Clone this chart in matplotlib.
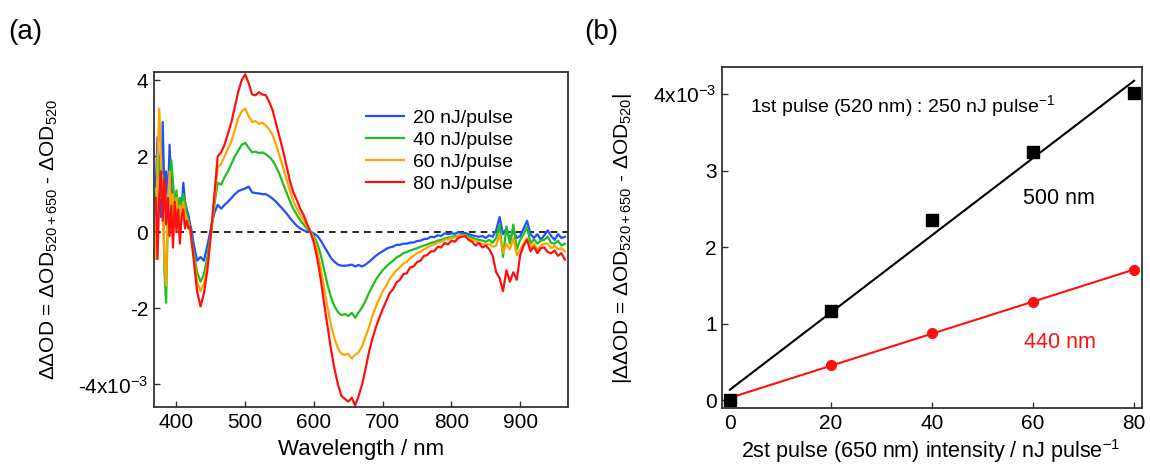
import matplotlib
matplotlib.use('Agg')
import matplotlib.pyplot as plt
import numpy as np

plt.rcParams['font.family'] = 'Liberation Sans'
plt.rcParams['mathtext.fontset'] = 'custom'
plt.rcParams['mathtext.rm'] = 'Liberation Sans'
plt.rcParams['mathtext.it'] = 'Liberation Sans:italic'
plt.rcParams['axes.unicode_minus'] = False

#-------------------------------------------------------------------------------
# Data (a): transient spectra (x 1e-3)
#-------------------------------------------------------------------------------
wavelength = [370 + 2.5 * i for i in range(23)] + list(range(430, 970, 5))

od_20 = [1.2, 2.5, 1.6, 0.4, 2.9, 1.0, 1.6, 0.7, 2.3, 1.2, 0.9, 0.5, 0.8, 0.7, 0.9, 0.6, 1.3, 0.8, 0.6, 0.45, 0.2, 0.0, -0.3,
         -0.75, -0.65, -0.75, -0.35, 0.1, 0.5, 0.72, 0.62, 0.72, 0.8, 0.9, 1.0, 1.08, 1.12, 1.15, 1.2, 1.05, 1.03, 1.02, 1.0,
         1.0, 0.95, 0.88, 0.8, 0.7, 0.6, 0.5, 0.38, 0.27, 0.17, 0.1, 0.05, 0.02, 0.0, -0.03, -0.1, -0.22, -0.38, -0.53, -0.68,
         -0.78, -0.85, -0.88, -0.88, -0.87, -0.85, -0.9, -0.86, -0.9, -0.85, -0.78, -0.7, -0.62, -0.55, -0.5, -0.44, -0.4,
         -0.38, -0.33, -0.33, -0.3, -0.3, -0.27, -0.27, -0.23, -0.22, -0.18, -0.17, -0.12, -0.13, -0.08, -0.1, -0.03, -0.05,
         -0.03, -0.04, 0.0, -0.02, -0.02, -0.05, -0.08, -0.1, -0.12, -0.1, -0.15, -0.08, -0.12, 0.05, 0.4, -0.05, 0.1, -0.2,
         0.05, -0.15, -0.1, 0.1, 0.3, -0.05, -0.15, -0.05, -0.2, -0.08, 0.05, -0.1, -0.2, -0.05, -0.15, -0.12]

od_40 = [0.8, 1.6, 2.0, 0.9, 1.5, -1.0, -1.85, 0.4, 1.3, 1.9, 1.3, 0.7, 1.1, 0.6, 0.9, 0.5, 1.0, 0.8, 0.5, 0.3, 0.1, -0.2, -0.5,
         -1.05, -1.3, -1.1, -0.65, -0.05, 0.7, 1.3, 1.25, 1.45, 1.6, 1.8, 2.0, 2.15, 2.3, 2.35, 2.22, 2.1, 2.12, 2.08, 2.1,
         2.05, 1.98, 1.88, 1.72, 1.52, 1.28, 1.05, 0.82, 0.62, 0.46, 0.32, 0.2, 0.1, 0.02, -0.1, -0.3, -0.6, -1.0, -1.4, -1.72,
         -1.95, -2.1, -2.18, -2.15, -2.2, -2.12, -2.25, -2.1, -1.98, -1.8, -1.6, -1.42, -1.25, -1.12, -1.0, -0.9, -0.82,
         -0.75, -0.66, -0.62, -0.55, -0.52, -0.48, -0.45, -0.42, -0.38, -0.35, -0.32, -0.28, -0.26, -0.22, -0.2, -0.16, -0.14,
         -0.12, -0.1, -0.09, -0.06, -0.08, -0.1, -0.14, -0.18, -0.2, -0.22, -0.25, -0.2, -0.28, -0.15, 0.2, -0.65, 0.15, -0.3,
         0.2, -0.45, -0.2, -0.05, 0.15, -0.3, -0.18, -0.3, -0.22, -0.2, -0.12, -0.28, -0.3, -0.22, -0.35, -0.3]

od_60 = [-0.7, 1.9, 3.25, 2.0, 0.6, -0.6, -1.4, 0.8, 1.6, 0.4, 1.0, 0.3, 0.9, 0.2, 0.7, 0.3, 0.8, 0.5, 0.35, 0.2, 0.0, -0.3, -0.6,
         -1.3, -1.55, -1.35, -0.85, -0.1, 0.8, 1.7, 1.8, 2.0, 2.2, 2.4, 2.7, 3.0, 3.18, 3.25, 3.05, 2.9, 2.92, 2.85, 2.88,
         2.8, 2.7, 2.55, 2.3, 2.0, 1.7, 1.4, 1.1, 0.82, 0.62, 0.46, 0.32, 0.16, 0.02, -0.18, -0.5, -0.95, -1.5, -2.0, -2.45,
         -2.8, -3.05, -3.2, -3.22, -3.2, -3.32, -3.22, -3.15, -3.0, -2.75, -2.5, -2.2, -1.95, -1.75, -1.55, -1.42, -1.22,
         -1.12, -1.0, -0.92, -0.82, -0.78, -0.68, -0.62, -0.55, -0.52, -0.45, -0.4, -0.35, -0.32, -0.27, -0.25, -0.2, -0.18,
         -0.15, -0.14, -0.1, -0.08, -0.1, -0.15, -0.2, -0.22, -0.28, -0.3, -0.33, -0.3, -0.38, -0.35, -0.05, -0.55, -0.3, -0.45,
         -0.15, -0.6, -0.45, -0.3, -0.15, -0.42, -0.3, -0.45, -0.35, -0.3, -0.3, -0.42, -0.35, -0.45, -0.42, -0.5]

od_80 = [0.9, -0.7, 1.0, 1.6, 0.3, 1.4, 0.2, 0.9, -0.1, 0.7, -0.4, 0.8, 0.0, 0.6, -0.3, 0.4, 0.6, 0.1, 0.3, 0.1, 0.15, -0.3, -0.7,
         -1.55, -1.95, -1.6, -1.0, -0.05, 0.95, 2.0, 2.1, 2.3, 2.6, 2.9, 3.3, 3.7, 4.0, 4.15, 3.92, 3.62, 3.6, 3.68, 3.62,
         3.6, 3.42, 3.2, 2.85, 2.5, 2.15, 1.75, 1.35, 1.05, 0.85, 0.62, 0.45, 0.22, 0.0, -0.28, -0.7, -1.25, -1.9, -2.5, -3.1,
         -3.6, -4.0, -4.3, -4.38, -4.45, -4.35, -4.55, -4.3, -4.0, -3.6, -3.15, -2.8, -2.5, -2.25, -2.02, -1.82, -1.6,
         -1.5, -1.32, -1.25, -1.1, -1.08, -0.92, -0.9, -0.78, -0.75, -0.62, -0.6, -0.5, -0.5, -0.38, -0.4, -0.28, -0.32,
         -0.22, -0.25, -0.15, -0.12, -0.1, -0.2, -0.25, -0.35, -0.28, -0.4, -0.35, -0.45, -0.62, -1.05, -1.2, -1.55, -1.0, -1.3,
         -1.05, -1.25, -0.6, -0.35, -0.2, -0.5, -0.38, -0.55, -0.42, -0.4, -0.52, -0.55, -0.48, -0.62, -0.55, -0.72]

spectra = [od_20, od_40, od_60, od_80]
spectra_labels = ['20 nJ/pulse', '40 nJ/pulse', '60 nJ/pulse', '80 nJ/pulse']
spectra_colors = ['#1f50ff', '#1fbf1f', '#ffa500', '#ff1010']

#-------------------------------------------------------------------------------
# Data (b): |ddOD| vs 2nd pulse intensity (x 1e-3)
#-------------------------------------------------------------------------------
intensity = [0, 20, 40, 60, 80]
ddod_500 = [0.0, 1.17, 2.36, 3.24, 4.01]
ddod_440 = [0.02, 0.46, 0.88, 1.29, 1.70]

frame_color = '#333333'


def style_axes(ax):
    for side in ax.spines.values():
        side.set_color(frame_color)
        side.set_linewidth(1.3)
    ax.tick_params(direction='in', length=4, width=1, color=frame_color,
                   top=False, right=False, labelsize=15, pad=4)


fig = plt.figure(figsize=(11.5, 4.66), dpi=100)

#-------------------------------------------------------------------------------
# Panel (a)
#-------------------------------------------------------------------------------
ax1 = fig.add_axes([0.1337, 0.1260, 0.3605, 0.7202])
ax1.axhline(0, color='black', linewidth=1.2, linestyle=(0, (4, 3)))
for vals, lab, col in zip(spectra, spectra_labels, spectra_colors):
    ax1.plot(wavelength, vals, color=col, linewidth=1.6, label=lab)

ax1.set_xlim(367, 970)
ax1.set_ylim(-4.6, 4.22)
ax1.set_xticks([400, 500, 600, 700, 800, 900])
ax1.set_yticks([-4, -2, 0, 2, 4])
ax1.set_yticklabels(['-4x10$^{-3}$', '-2', '0', '2', '4'])
style_axes(ax1)

ax1.legend(loc='upper left', bbox_to_anchor=(0.512, 0.888), frameon=False, fontsize=14,
           handlelength=1.95, handletextpad=0.45, labelspacing=0.22, borderpad=0, borderaxespad=0)

fig.text(361 / 1150, 1 - 449 / 466, 'Wavelength / nm', ha='center', va='center', fontsize=16)
fig.text(49 / 1150, 1 - 239 / 466, 'ΔΔOD = ΔOD$_{520+650}$ - ΔOD$_{520}$',
         ha='center', va='center', rotation=90, fontsize=15)
fig.text(8 / 1150, 1 - 32 / 466, '(a)', ha='left', va='center', fontsize=20)

#-------------------------------------------------------------------------------
# Panel (b)
#-------------------------------------------------------------------------------
ax2 = fig.add_axes([0.6281, 0.1238, 0.3647, 0.7318])

fit_500 = np.polyfit(intensity, ddod_500, 1)
fit_440 = np.polyfit(intensity, ddod_440, 1)
xfit = np.array([intensity[0], intensity[-1]])
ax2.plot(xfit, np.polyval(fit_500, xfit), color='black', linewidth=1.5)
ax2.plot(xfit, np.polyval(fit_440, xfit), color='#ff1010', linewidth=1.5)
ax2.plot(intensity, ddod_440, 'o', color='#ff1010', markersize=7)
ax2.plot(intensity, ddod_500, 's', color='black', markersize=8.5)

ax2.set_xlim(-1.5, 81.5)
ax2.set_ylim(-0.105, 4.35)
ax2.set_xticks([0, 20, 40, 60, 80])
ax2.set_yticks([0, 1, 2, 3, 4])
ax2.set_yticklabels(['0', '1', '2', '3', '4x10$^{-3}$'])
style_axes(ax2)

ax2.text(3.9, 3.85, '1st pulse (520 nm) : 250 nJ pulse$^{-1}$', ha='left', va='center', fontsize=14)
ax2.text(58.0, 2.64, '500 nm', ha='left', va='center', fontsize=15.5, color='black')
ax2.text(58.3, 0.76, '440 nm', ha='left', va='center', fontsize=15.5, color='#ff1010')

fig.text(931 / 1150, 1 - 451 / 466, '2st pulse (650 nm) intensity / nJ pulse$^{-1}$',
         ha='center', va='center', fontsize=15.5)
fig.text(622 / 1150, 1 - 238 / 466, '|ΔΔOD = ΔOD$_{520+650}$ - ΔOD$_{520}$|',
         ha='center', va='center', rotation=90, fontsize=15)
fig.text(584 / 1150, 1 - 32 / 466, '(b)', ha='left', va='center', fontsize=20)

fig.savefig('out.png', dpi=100)
